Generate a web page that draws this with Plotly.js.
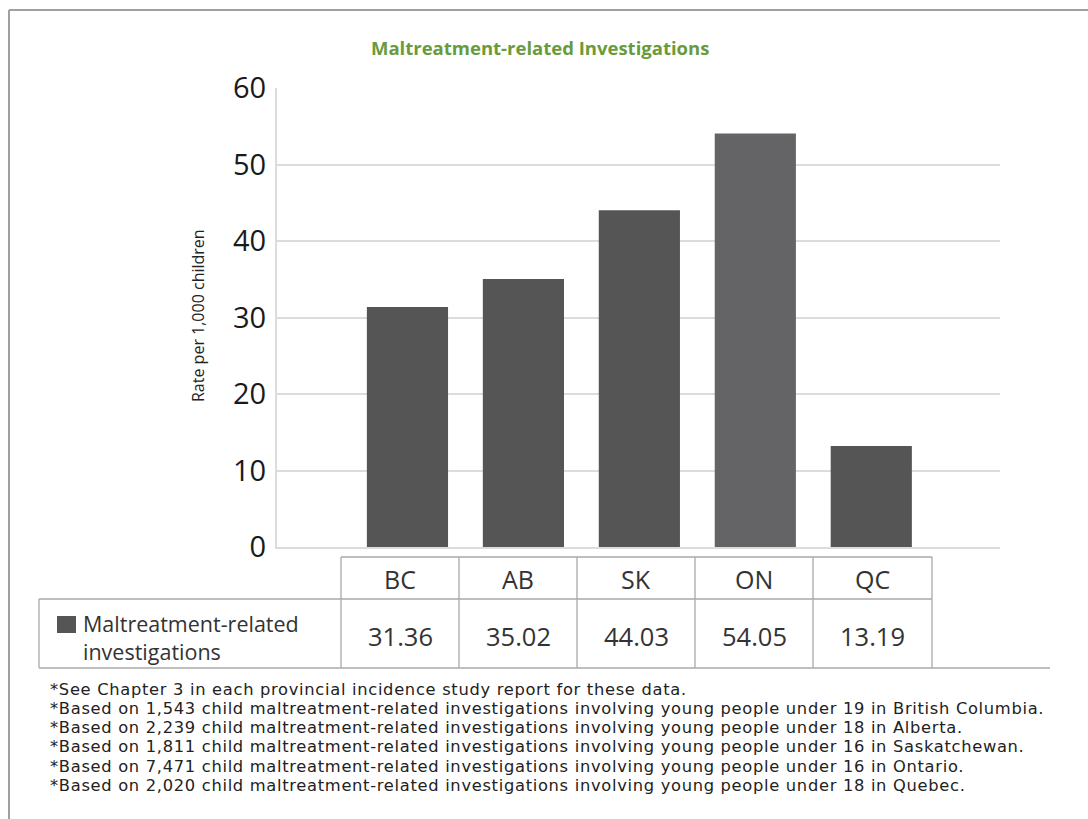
<!DOCTYPE html>
<html><head><meta charset="utf-8">
<script src="https://cdn.plot.ly/plotly-3.0.1.min.js"></script>
<style>html,body{margin:0;padding:0;background:#fff;overflow:hidden;} #chart{width:1088px;height:819px;}</style>
</head><body><div id="chart"></div>
<script>
// ---- data ----
const provinces = ['BC', 'AB', 'SK', 'ON', 'QC'];
const rates = [31.36, 35.02, 44.03, 54.05, 13.19];
const rateLabels = ['31.36', '35.02', '44.03', '54.05', '13.19'];
const seriesName = 'Maltreatment-related<br>investigations';
const chartTitle = 'Maltreatment-related Investigations';
const yAxisTitle = 'Rate per 1,000 children';
const yTickValues = [0, 10, 20, 30, 40, 50, 60];
const footnotes = [
  '*See Chapter 3 in each provincial incidence study report for these data.',
  '*Based on 1,543 child maltreatment-related investigations involving young people under 19 in British Columbia.',
  '*Based on 2,239 child maltreatment-related investigations involving young people under 18 in Alberta.',
  '*Based on 1,811 child maltreatment-related investigations involving young people under 16 in Saskatchewan.',
  '*Based on 7,471 child maltreatment-related investigations involving young people under 16 in Ontario.',
  '*Based on 2,020 child maltreatment-related investigations involving young people under 18 in Quebec.'
];

// ---- styling / layout ----
const W = 1088, H = 819;
const px = x => x / W;
const py = y => 1 - y / H;
const FONT = 'Open Sans, Noto Sans, sans-serif';
const NOTE_FONT = 'DejaVu Sans, Open Sans, sans-serif';
const barColors = ['#555555', '#555555', '#555555', '#646466', '#555555'];
const border = '#a9a9a9';
const textCol = '#333333';

const colEdges = [341, 459, 577, 695, 813, 932];
const headTop = 557, headBot = 599, rowBot = 668, rowLeft = 39;

const shapes = [];
function line(x0, y0, x1, y1, color, w) {
  shapes.push({type: 'line', xref: 'paper', yref: 'paper', x0: px(x0), y0: py(y0), x1: px(x1), y1: py(y1),
    line: {color: color || border, width: w || 1.3}});
}
// outer frame
line(9, 10, W, 10, '#a0a0a0', 2);
line(9, 10, 9, H, '#a0a0a0', 2);
// table
line(colEdges[0], headTop, colEdges[5], headTop);
line(rowLeft, headBot, colEdges[5], headBot);
line(rowLeft, rowBot, 1050, rowBot);
line(rowLeft, headBot, rowLeft, rowBot);
colEdges.forEach(x => line(x, headTop, x, rowBot));
// legend swatch
shapes.push({type: 'rect', xref: 'paper', yref: 'paper', x0: px(57), x1: px(76), y0: py(633), y1: py(616),
  fillcolor: '#555555', line: {width: 0}});

const annotations = [];
annotations.push({xref: 'paper', yref: 'paper', x: px(540), y: py(47), text: '<b>' + chartTitle + '</b>',
  showarrow: false, xanchor: 'center', yanchor: 'middle', font: {family: FONT, size: 18.5, color: '#6a9b3b'}});
annotations.push({xref: 'paper', yref: 'paper', x: px(198), y: py(316), text: yAxisTitle, textangle: -90,
  showarrow: false, xanchor: 'center', yanchor: 'middle', font: {family: FONT, size: 16, color: '#222'}});
provinces.forEach((p, i) => {
  const cx = (colEdges[i] + colEdges[i + 1]) / 2;
  annotations.push({xref: 'paper', yref: 'paper', x: px(cx), y: py(579), text: p, showarrow: false,
    xanchor: 'center', yanchor: 'middle', font: {family: FONT, size: 25, color: textCol}});
  annotations.push({xref: 'paper', yref: 'paper', x: px(cx), y: py(636), text: rateLabels[i], showarrow: false,
    xanchor: 'center', yanchor: 'middle', font: {family: FONT, size: 25.5, color: textCol}});
});
annotations.push({xref: 'paper', yref: 'paper', x: px(81), y: py(637), text: seriesName, showarrow: false,
  xanchor: 'left', yanchor: 'middle', align: 'left', font: {family: FONT, size: 21.5, color: textCol}});
const firstNoteIndex = annotations.length;
footnotes.forEach((t, i) => {
  annotations.push({xref: 'paper', yref: 'paper', x: px(48), y: py(689 + i * 19.3), text: t, showarrow: false,
    xanchor: 'left', yanchor: 'middle', align: 'left', font: {family: NOTE_FONT, size: 16.3, color: '#222'}});
});

const trace = {
  type: 'bar', x: provinces, y: rates, name: 'Maltreatment-related investigations',
  marker: {color: barColors, line: {width: 0}}, hoverinfo: 'x+y'
};

const layout = {
  width: W, height: H, margin: {l: 0, r: 0, t: 0, b: 0},
  paper_bgcolor: '#ffffff', plot_bgcolor: '#ffffff', showlegend: false, bargap: 0.3,
  xaxis: {domain: [px(277), px(1000)], range: [-1.125, 5.11], showticklabels: false, ticks: '',
    showgrid: false, zeroline: false, showline: true, linecolor: '#dcdcdc', linewidth: 2, fixedrange: true},
  yaxis: {domain: [py(547), py(88)], range: [0, 60], tickvals: yTickValues, ticks: '',
    tickfont: {family: FONT, size: 29, color: '#1a1a1a'}, ticklabelstandoff: 3,
    showgrid: true, gridcolor: '#dcdcdc', gridwidth: 2, zeroline: false,
    showline: true, linecolor: '#dcdcdc', linewidth: 2, fixedrange: true},
  shapes: shapes, annotations: annotations
};

Plotly.newPlot('chart', [trace], layout, {displayModeBar: false, staticPlot: true}).then(gd => {
  gd.querySelectorAll('g.annotation').forEach(g => {
    const idx = +g.getAttribute('data-index');
    if (idx >= firstNoteIndex) {
      g.querySelectorAll('text').forEach(t => { t.style.letterSpacing = '0.7px'; t.setAttribute('text-anchor', 'start'); });
    }
  });
});
</script>
</body></html>
